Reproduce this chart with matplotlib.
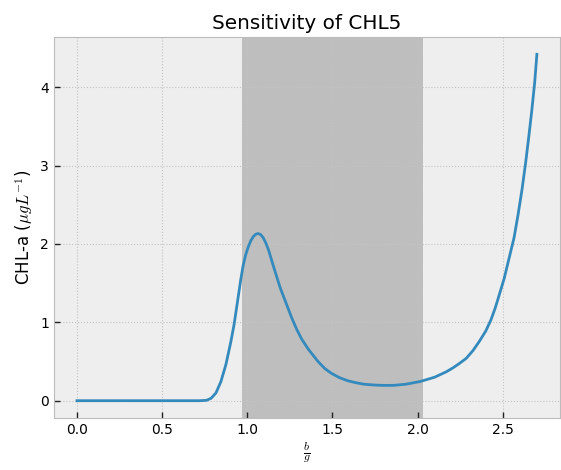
import numpy as np
import matplotlib.pyplot as plt

plt.style.use('bmh')

# ratio b/g and the modelled chlorophyll response
ratio = [0.0, 0.5, 0.72, 0.76, 0.787, 0.816, 0.845, 0.874, 0.903, 0.922,
         0.942, 0.961, 0.975, 0.99, 1.005, 1.02, 1.035, 1.05, 1.063,
         1.078, 1.093, 1.108, 1.125, 1.154, 1.193, 1.232, 1.26, 1.29,
         1.318, 1.357, 1.415, 1.455, 1.493, 1.54, 1.589, 1.64, 1.686,
         1.745, 1.802, 1.86, 1.93, 2.015, 2.1, 2.169, 2.208, 2.245, 2.285,
         2.325, 2.363, 2.4, 2.43, 2.455, 2.479, 2.508, 2.537, 2.566, 2.59,
         2.613, 2.633, 2.652, 2.67, 2.687, 2.7]
chl = [0.0, 0.0, 0.0, 0.005, 0.03, 0.10, 0.245, 0.46, 0.75, 0.97,
       1.26, 1.54, 1.72, 1.86, 1.96, 2.04, 2.095, 2.125, 2.133,
       2.12, 2.08, 2.015, 1.92, 1.71, 1.44, 1.22, 1.06, 0.91,
       0.79, 0.66, 0.50, 0.41, 0.35, 0.295, 0.255, 0.228, 0.21,
       0.2, 0.195, 0.196, 0.21, 0.245, 0.30, 0.37, 0.42, 0.475, 0.54,
       0.64, 0.76, 0.89, 1.03, 1.18, 1.35, 1.56, 1.82, 2.08, 2.38,
       2.70, 3.02, 3.36, 3.70, 4.06, 4.42]
band = (0.97, 2.03)

fig = plt.figure(figsize=(5.61, 4.70), dpi=100)
ax = fig.add_axes([0.0963, 0.1106, 0.9017, 0.8107])

ax.plot(ratio, chl)
ax.axvspan(band[0], band[1], color='gray', alpha=0.43, lw=0)

ax.grid(True, ls=':', lw=0.8, color='#c4c4c4')
ax.tick_params(direction='in', length=4, width=1, color='#222222')

ax.set_title('Sensitivity of CHL5')
ax.set_xlabel(r'$\frac{b}{g}$', labelpad=2)
ax.set_ylabel(r'CHL-a ($\mu g L^{-1}$)')

fig.savefig('out.png', dpi=100)
